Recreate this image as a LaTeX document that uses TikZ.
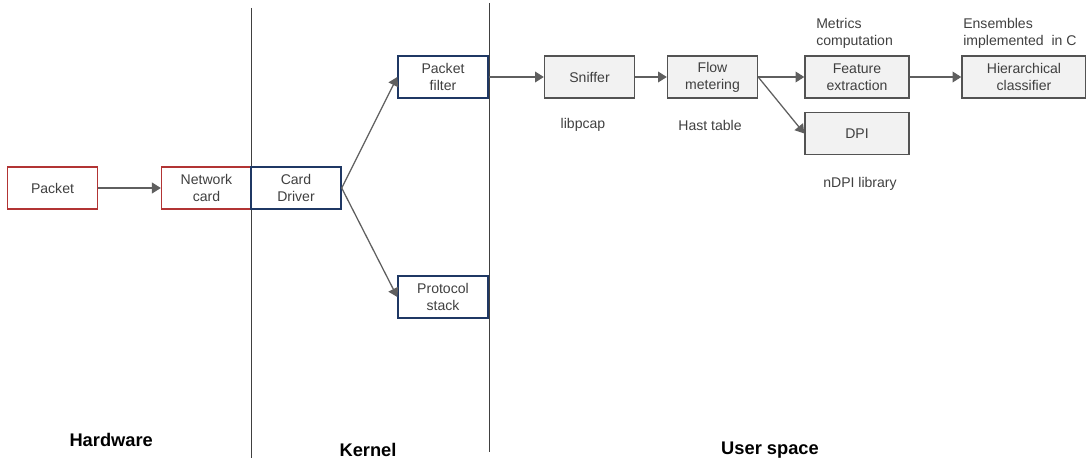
\documentclass[tikz,border=0pt]{standalone}
\usepackage{fontspec}
\setmainfont{Liberation Sans}
\usetikzlibrary{arrows.meta,positioning}
\definecolor{brick}{RGB}{178,52,52}
\definecolor{navy}{RGB}{31,56,100}
\definecolor{shade}{RGB}{242,242,242}
\definecolor{ink}{RGB}{64,64,64}
\definecolor{wire}{RGB}{95,95,95}
\tikzset{
  >={Triangle[length=2.2mm,width=2.7mm]},
  stage/.style={draw=#1,fill=white,line width=1pt,minimum height=10.5mm,
    minimum width=22.5mm,align=center,text=ink,inner sep=1pt},
  stage/.default=navy,
  tool/.style={draw=ink!90,fill=shade,line width=1pt,minimum height=10.5mm,
    minimum width=22.5mm,align=center,text=ink,inner sep=1pt},
  flow/.style={->,line width=0.9pt,draw=wire},
  note/.style={text=ink,align=left,inner sep=0pt},
  zone/.style={font=\fontsize{13}{15}\selectfont\bfseries,text=black},
  divider/.style={draw=ink,line width=0.7pt},
}
\begin{document}
\begin{tikzpicture}
  \useasboundingbox (0,0) rectangle (27.15,-11.575);
  % layer borders
  \draw[divider] (6.275,-0.2) -- (6.275,-11.45);
  \draw[divider] (12.225,-0.075) -- (12.225,-11.3);
  % hardware
  \node[stage=brick] (pkt) at (1.3125,-4.7) {Packet};
  \node[stage=brick] (nic) at (5.1625,-4.7) {Network\\card};
  % kernel
  \node[stage] (drv) at (7.4,-4.7) {Card\\Driver};
  \node[stage] (pf) at (11.075,-1.925) {Packet\\filter};
  \node[stage] (ps) at (11.075,-7.425) {Protocol\\stack};
  % user space
  \node[tool] (snf) at (14.7375,-1.925) {Sniffer};
  \node[tool] (fm) at (17.8125,-1.925) {Flow\\metering};
  \node[tool,minimum width=26mm] (fe) at (21.425,-1.925) {Feature\\extraction};
  \node[tool,minimum width=26mm] (dpi) at (21.425,-3.3375) {DPI};
  \node[tool,minimum width=31mm] (hc) at (25.6,-1.925) {Hierarchical\\classifier};
  \node[note] (lp) at (14.575,-3.125) {libpcap};
  \node[note] (ht) at (17.75,-3.125) {Hast table};
  \node[note] (nd) at (21.5,-4.6) {nDPI library};
  \node[note,anchor=west] (mc) at (20.4,-0.8375) {Metrics\\computation};
  \node[note,anchor=west] (ens) at (24.075,-0.8375) {Ensembles\\implemented\ \ in C};
  \node[zone] (hw) at (2.78,-11.0) {Hardware};
  \node[zone] (kr) at (9.2,-11.25) {Kernel};
  \node[zone] (us) at (19.25,-11.25) {User space};
  % connectors
  \draw[flow] (pkt) -- (nic);
  \draw[flow] (drv.east) -- (pf.west);
  \draw[flow] (drv.east) -- (ps.west);
  \draw[flow] (pf) -- (snf);
  \draw[flow] (snf) -- (fm);
  \draw[flow] (fm) -- (fe);
  \draw[flow] (fm.east) -- (dpi.west);
  \draw[flow] (fe) -- (hc);
\end{tikzpicture}
\end{document}
